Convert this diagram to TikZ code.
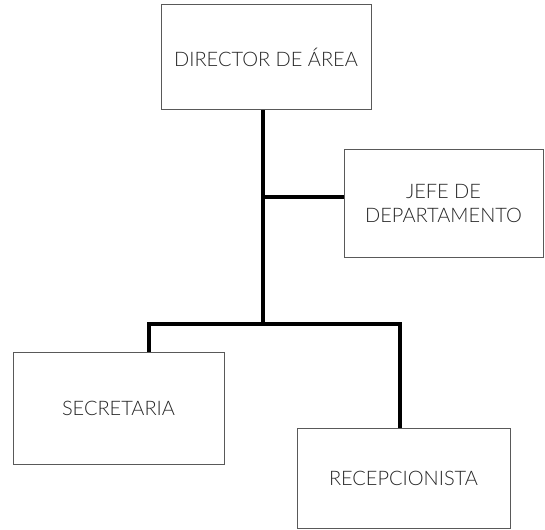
\documentclass[tikz,border=0pt]{standalone}
\usepackage{fontspec}
\setmainfont{Lato Light}
\usepackage{tikz}
\usepackage{xcolor}

\tikzset{
  puesto/.style={draw=black!65, line width=1pt, text=black!85, align=center,
    font=\fontsize{20}{24}\selectfont, inner sep=0pt},
  enlace/.style={line width=4pt, black, line cap=butt}
}

\begin{document}
\begin{tikzpicture}[x=1pt, y=-1pt]
      \useasboundingbox (0,0) rectangle (545,529);
      \node[puesto, minimum width=210pt, minimum height=105pt] (director) at (266, 57.5) {DIRECTOR DE ÁREA};
      \node[puesto, minimum width=199pt, minimum height=107pt] (jefe) at (443.5, 203.5) {JEFE DE\\DEPARTAMENTO};
      \node[puesto, minimum width=211pt, minimum height=112pt] (secretaria) at (118.5, 408) {SECRETARIA};
      \node[puesto, minimum width=213pt, minimum height=100pt] (recepcion) at (403.5, 478) {RECEPCIONISTA};
      \coordinate (hub) at (263, 324);
      \draw[enlace] (director.south -| hub) -- (hub);
      \draw[enlace] (hub |- 0,197) -- (jefe.west |- 0,197);
      \draw[enlace] (secretaria.north -| 149,0) |- (hub) -| (recepcion.north -| 400,0);
\end{tikzpicture}
\end{document}
